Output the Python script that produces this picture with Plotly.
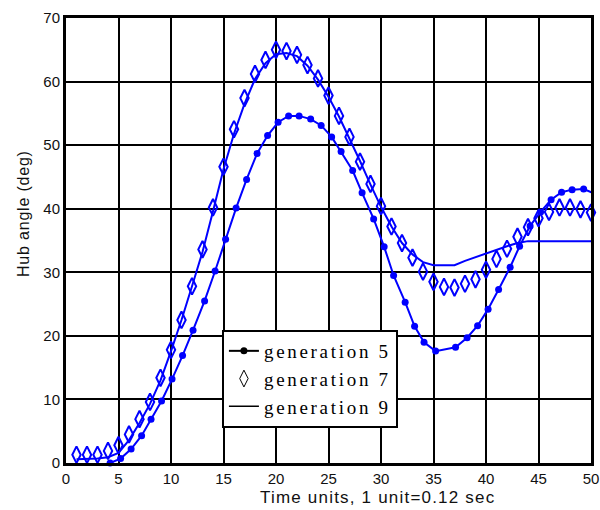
import plotly.graph_objects as go

# generation 5 (line + dots)
t5 = [1.1, 2.1, 3.1, 4.2, 5.2, 6.2, 7.2, 8.1, 9.1, 10.1, 11.1, 12.1, 13.2, 14.2, 15.2,
      16.2, 17.2, 18.2, 19.2, 20.2, 21.2, 22.2, 23.3, 24.3, 25.3, 26.2, 27.3, 28.2, 29.3,
      30.3, 31.2, 32.3, 33.2, 34.1, 35.2, 37.1, 38.2, 39.2, 40.2, 41.2, 42.3, 43.2, 44.2,
      45.2, 46.2, 47.2, 48.2, 49.3, 50.3]
g5 = [-0.3, -0.5, -0.5, 0.0, 0.7, 2.2, 4.3, 6.9, 9.75, 13.2, 16.9, 20.9, 25.5, 30.2, 35.2,
      40.1, 44.6, 48.7, 51.5, 53.6, 54.6, 54.6, 54.1, 53.1, 51.3, 49.0, 46.0, 42.5, 38.4,
      34.0, 29.5, 25.3, 21.5, 19.0, 17.6, 18.2, 19.7, 21.6, 24.2, 27.3, 30.8, 34.1, 37.3,
      39.5, 41.4, 42.6, 43.0, 43.1, 42.4]

# generation 7 (open diamonds)
t7 = list(range(1, 51))
g7 = [1.3, 1.3, 1.3, 1.9, 2.8, 4.5, 6.9, 9.6, 13.4, 17.8, 22.5, 27.8, 33.6, 40.2, 46.6,
      52.5, 57.4, 61.2, 63.4, 65.0, 64.8, 64.2, 62.6, 60.5, 57.8, 54.6, 51.3, 47.4, 43.9,
      40.4, 37.2, 34.6, 32.3, 30.1, 28.5, 27.7, 27.6, 28.2, 28.9, 30.4, 32.1, 33.7, 35.6,
      37.1, 38.5, 39.5, 40.2, 40.2, 39.9, 39.4]

# generation 9 (line)
t9 = list(range(1, 51))
g9 = [0.6, 0.6, 0.7, 0.9, 1.6, 3.6, 6.3, 9.3, 13.0, 17.6, 22.5, 27.8, 33.2, 39.6, 46.2,
      51.8, 56.5, 60.4, 62.9, 64.3, 64.5, 64.0, 62.5, 60.3, 57.6, 54.5, 51.1, 47.5, 43.8,
      40.3, 37.2, 34.6, 32.8, 31.6, 31.1, 31.1, 31.1, 31.8, 32.4, 33.0, 33.5, 34.1, 34.6,
      34.9, 34.9, 34.9, 34.9, 34.9, 34.9, 34.9]

legend_names = ["generation 5", "generation 7", "generation 9"]
x_title = "Time units, 1 unit=0.12 sec"
y_title = "Hub angle (deg)"


def spaced(txt, px):
    return f'<span style="letter-spacing:{px}px">{txt}</span>'


BLUE = "#0000FF"
SANS = "Liberation Sans, Arial"
fig = go.Figure()

fig.add_trace(go.Scatter(x=t9, y=g9, mode="lines", line=dict(color=BLUE, width=2),
                         showlegend=False, cliponaxis=False))
fig.add_trace(go.Scatter(x=t5, y=g5, mode="lines+markers",
                         line=dict(color=BLUE, width=2),
                         marker=dict(color=BLUE, size=7, symbol="circle"),
                         showlegend=False, cliponaxis=False))
fig.add_trace(go.Scatter(x=t7, y=g7, mode="markers",
                         marker=dict(color=BLUE, size=12, symbol="diamond-tall-open",
                                     line=dict(width=2, color=BLUE)),
                         showlegend=False, cliponaxis=False))

# legend-only entries (black symbols as in the reference)
fig.add_trace(go.Scatter(x=[None], y=[None], mode="lines+markers",
                         name=spaced(legend_names[0], 2.7),
                         line=dict(color="black", width=2),
                         marker=dict(color="black", size=7, symbol="circle")))
fig.add_trace(go.Scatter(x=[None], y=[None], mode="markers",
                         name=spaced(legend_names[1], 2.7),
                         marker=dict(color="black", size=12, symbol="diamond-tall-open",
                                     line=dict(width=1, color="black"))))
fig.add_trace(go.Scatter(x=[None], y=[None], mode="lines",
                         name=spaced(legend_names[2], 2.7),
                         line=dict(color="black", width=1.5)))

axis_common = dict(showgrid=True, gridcolor="black", gridwidth=2,
                   showline=True, linecolor="black", linewidth=3, mirror=True,
                   zeroline=False, ticks="", automargin=False,
                   tickfont=dict(family=SANS, size=15, color="#111"))

fig.update_xaxes(range=[0, 50], dtick=5, tick0=0, **axis_common)
fig.update_yaxes(range=[0, 70], dtick=10, tick0=0, **axis_common)

fig.update_layout(
    width=600, height=510,
    margin=dict(l=66, r=9, t=18, b=47, autoexpand=False),
    paper_bgcolor="white", plot_bgcolor="white",
    legend=dict(x=0.297, y=(463 - 330) / 445, xanchor="left", yanchor="top",
                bgcolor="white", bordercolor="black", borderwidth=2,
                font=dict(family="Liberation Serif, Times New Roman", size=19, color="black"),
                tracegroupgap=0, itemwidth=30),
    showlegend=True,
    annotations=[
        dict(text=spaced(x_title, 1.2), xref="paper", yref="paper",
             x=(377 - 66) / 525, y=(463 - 497) / 445, xanchor="center", yanchor="middle",
             showarrow=False, font=dict(family=SANS, size=17, color="#111")),
        dict(text=spaced(y_title, 0.8), xref="paper", yref="paper", textangle=-90,
             x=(23 - 66) / 525, y=(463 - 214) / 445, xanchor="center", yanchor="middle",
             showarrow=False, font=dict(family=SANS, size=16, color="#111")),
    ],
)

fig.write_html("out.html")
